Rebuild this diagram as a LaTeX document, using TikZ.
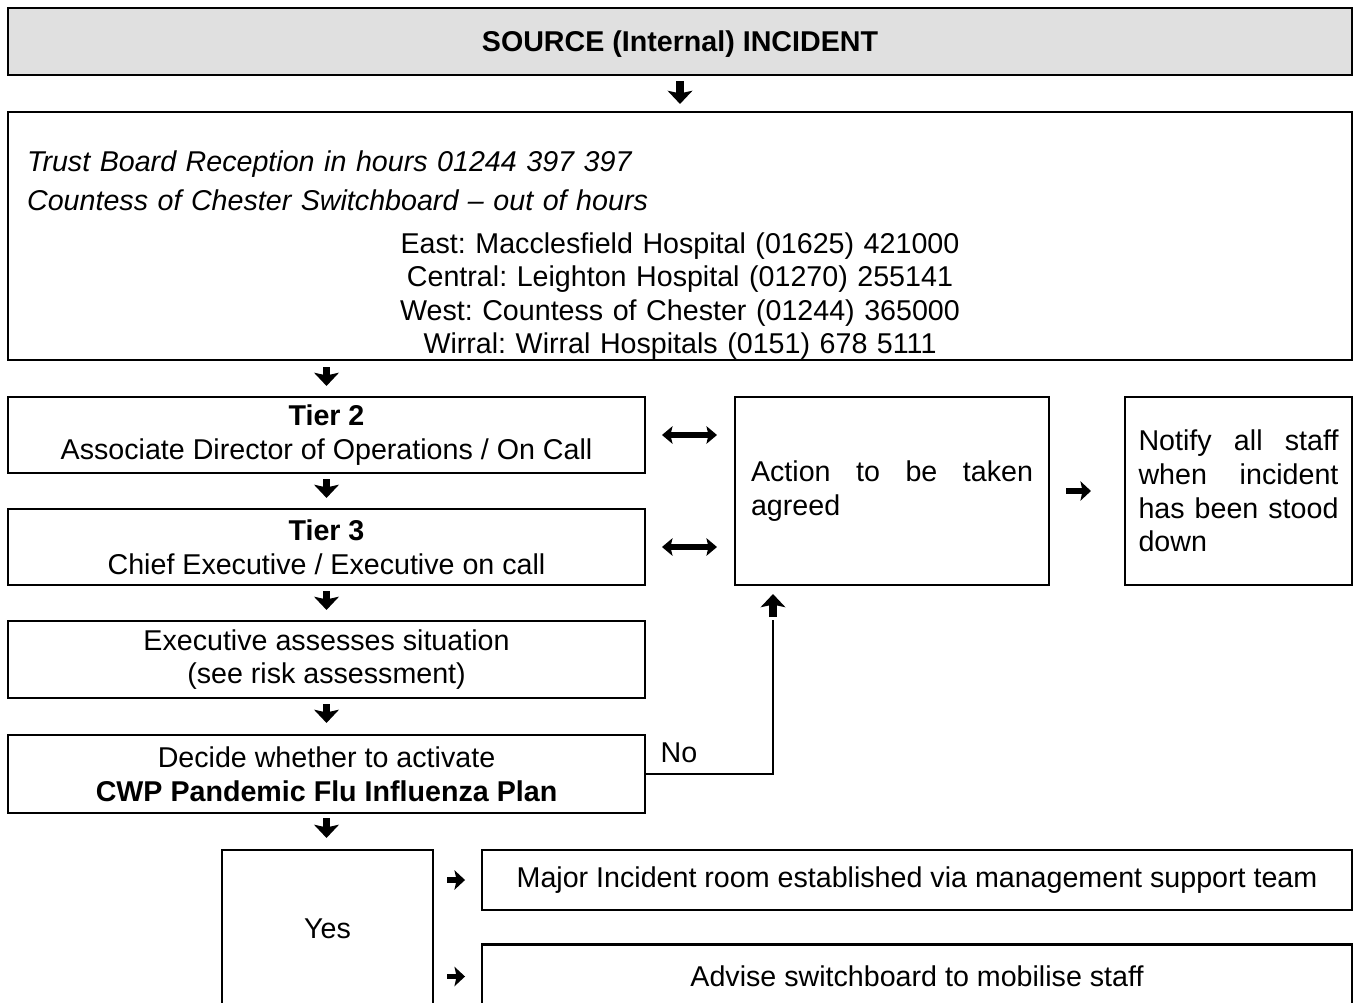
\documentclass[tikz,border=0pt]{standalone}
\usepackage{fontspec}
\setmainfont{Liberation Sans}
\usepackage{tikz}
\usetikzlibrary{arrows.meta, calc}
\definecolor{hdrgray}{RGB}{224,224,224}
\hyphenpenalty=10000
\tolerance=10000
\frenchspacing

\begin{document}
\begin{tikzpicture}[x=0.02cm, y=-0.02cm,
    box/.style={draw, line width=1.2pt, inner sep=0pt, align=center,
        font=\fontsize{16.3}{19.1}\selectfont},
    conn/.style={line width=1.2pt},
    vglyph/.style={line width=4pt, -{Stealth[length=7.5pt, width=14pt, inset=1.5pt]}},
    hglyph/.style={line width=3pt, -{Stealth[length=6pt, width=11pt, inset=1.2pt]}},
    dglyph/.style={line width=3pt, {Stealth[length=6pt, width=10pt, inset=1.2pt]}-{Stealth[length=6pt, width=10pt, inset=1.2pt]}}]
    \useasboundingbox (0,0) rectangle (1358,1003);
    \clip (0,0) rectangle (1358,1003);

    % top of the chart
    \node[box, fill=hdrgray, minimum width=26.88cm, minimum height=1.34cm, text depth=0pt] (src) at (680,41.5) {\textbf{SOURCE (Internal) INCIDENT}};
    \node[box, minimum width=26.88cm, minimum height=4.96cm] (info) at (680,236) {};
    \node[inner sep=0pt, text width=26.12cm, align=center, font=\fontsize{16.3}{19.1}\selectfont] (infotxt) at (680,255)
        {\makebox[\linewidth][l]{\itshape Trust Board Reception in hours 01244 397 397}\\[3.4pt]
         \makebox[\linewidth][l]{\itshape Countess of Chester Switchboard – out of hours}\\[5pt]
         East: Macclesfield Hospital (01625) 421000\\
         Central: Leighton Hospital (01270) 255141\\
         West: Countess of Chester (01244) 365000\\
         Wirral: Wirral Hospitals (0151) 678 5111};

    % left column
    \node[box, minimum width=12.74cm, minimum height=1.52cm] (tier2) at (326.5,435) {\textbf{Tier 2}\\Associate Director of Operations / On Call};
    \node[box, minimum width=12.74cm, minimum height=1.52cm] (tier3) at (326.5,547) {\textbf{Tier 3}\\Chief Executive / Executive on call};
    \node[box, minimum width=12.74cm, minimum height=1.54cm] (assess) at (326.5,659.5) {Executive assesses situation\\(see risk assessment)};
    \node[box, minimum width=12.74cm, minimum height=1.56cm] (decide) at (326.5,774) {Decide whether to activate\\\textbf{CWP Pandemic Flu Influenza Plan}};

    % right of the tiers
    \node[box, minimum width=6.28cm, minimum height=3.76cm, text width=5.64cm, align=justify] (action) at (892,491) {Action to be taken agreed};
    \node[box, minimum width=4.54cm, minimum height=3.76cm, text width=4.0cm, align=justify] (notify) at (1238.5,491) {Notify all staff when incident has been stood down};

    % bottom
    \node[box, minimum width=4.22cm, minimum height=3.16cm] (yes) at (327.5,929) {Yes};
    \node[box, minimum width=17.4cm, minimum height=1.2cm] (major) at (917,880) {Major Incident room established via management support team};
    \node[box, minimum width=17.4cm, minimum height=1.28cm] (advise) at (917,976.5) {Advise switchboard to mobilise staff};

    % arrows
    \draw[vglyph, shorten <=0.1cm, shorten >=0.14cm] (src.south) -- (info.north);
    \draw[vglyph, shorten <=0.12cm, shorten >=0.2cm] (info.south -| tier2.north) -- (tier2.north);
    \draw[vglyph, shorten <=0.1cm, shorten >=0.2cm] (tier2.south) -- (tier3.north);
    \draw[vglyph, shorten <=0.1cm, shorten >=0.2cm] (tier3.south) -- (assess.north);
    \draw[vglyph, shorten <=0.1cm, shorten >=0.22cm] (assess.south) -- (decide.north);
    \draw[vglyph, shorten <=0.08cm, shorten >=0.22cm] (decide.south) -- (decide.south |- yes.north);

    \draw[dglyph, shorten <=0.32cm, shorten >=0.34cm] (tier2.east) -- (tier2.east -| action.west);
    \draw[dglyph, shorten <=0.32cm, shorten >=0.34cm] (tier3.east) -- (tier3.east -| action.west);
    \draw[hglyph, shorten <=0.32cm, shorten >=0.66cm] (action.east) -- (notify.west);
    \draw[hglyph, shorten <=0.26cm, shorten >=0.32cm] (yes.east |- major.west) -- (major.west);
    \draw[hglyph, shorten <=0.26cm, shorten >=0.32cm] (yes.east |- advise.west) -- (advise.west);

    % the No branch
    \coordinate (noturn) at (773,620);
    \draw[conn] (decide.east) -| node[pos=0.13, above=6pt, inner sep=0pt, font=\fontsize{16.3}{19.1}\selectfont] (nolbl) {No} (noturn);
    \draw[vglyph, shorten <=0.06cm, shorten >=0.16cm] (noturn) -- (noturn |- action.south);
\end{tikzpicture}
\end{document}
